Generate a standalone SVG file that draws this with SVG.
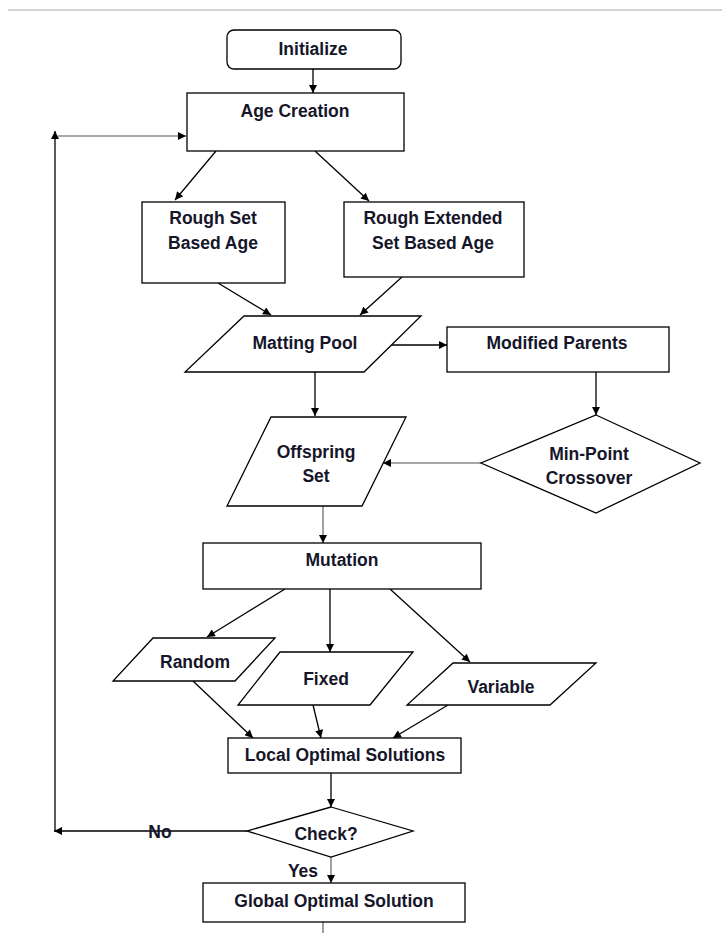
<svg xmlns="http://www.w3.org/2000/svg" width="722" height="933" viewBox="0 0 722 933">
<defs>
<marker id="ah" viewBox="0 0 10 10" refX="10" refY="5" markerWidth="9" markerHeight="8" markerUnits="userSpaceOnUse" orient="auto">
<path d="M0,0 L10,5 L0,10 z" fill="#000"/>
</marker>
<style>
.n{fill:#fff;stroke:#000;stroke-width:1.3}
.t{font-family:"Liberation Sans",Arial,sans-serif;font-weight:bold;font-size:17.5px;fill:#16162a;text-anchor:middle}
.c{fill:none;stroke:#000;stroke-width:1.3}
.g{fill:none;stroke:#8a8a8a;stroke-width:1.6}
.a{marker-end:url(#ah)}
</style>
</defs>
<rect width="722" height="933" fill="#fff"/>
<line x1="8" y1="10" x2="722" y2="10" stroke="#d4d4d4" stroke-width="2"/>
<g id="connectors">
<line class="c a" x1="313" y1="69" x2="313" y2="93"/>
<line class="c a" x1="216" y1="151" x2="175" y2="200"/>
<line class="c a" x1="315" y1="151" x2="369" y2="201"/>
<line class="c a" x1="218" y1="283" x2="271" y2="315"/>
<line class="c a" x1="402" y1="277" x2="360" y2="315"/>
<line class="c a" x1="391" y1="345" x2="447" y2="345"/>
<line class="c a" x1="315" y1="372" x2="315" y2="416"/>
<line class="c a" x1="596" y1="372" x2="596" y2="415"/>
<line class="g a" x1="481" y1="463" x2="383" y2="463"/>
<line class="g a" x1="323" y1="506" x2="323" y2="543"/>
<line class="c a" x1="285" y1="589" x2="207" y2="637"/>
<line class="c a" x1="330" y1="589" x2="330" y2="652"/>
<line class="c a" x1="390" y1="589" x2="470" y2="662"/>
<line class="c a" x1="193" y1="681" x2="253" y2="738"/>
<line class="c a" x1="313" y1="705" x2="321" y2="738"/>
<line class="c a" x1="448" y1="705" x2="393" y2="738"/>
<line class="c a" x1="331" y1="773" x2="331" y2="807"/>
<line class="c a" x1="247" y1="831" x2="54" y2="831"/>
<line class="c a" x1="55" y1="831" x2="55" y2="131"/>
<line class="g a" x1="58" y1="136" x2="186" y2="136"/>
<line class="g a" x1="331" y1="857" x2="331" y2="883"/>
<line class="g" x1="323" y1="922" x2="323" y2="933"/>
</g>
<g id="initialize"><rect class="n" x="227" y="30" width="174" height="39" rx="7"/><text class="t" x="313" y="55">Initialize</text></g>
<g id="age-creation"><rect class="n" x="187" y="93" width="217" height="58"/><text class="t" x="295" y="117">Age Creation</text></g>
<g id="rough-set"><rect class="n" x="142" y="202" width="143" height="81"/><text class="t" x="213" y="224">Rough Set</text><text class="t" x="213" y="249">Based Age</text></g>
<g id="rough-extended"><rect class="n" x="344" y="202" width="180" height="75"/><text class="t" x="433" y="224">Rough Extended</text><text class="t" x="433" y="249">Set Based Age</text></g>
<g id="matting-pool"><polygon class="n" points="244,316 421,316 364,372 185,372"/><text class="t" x="305" y="349">Matting Pool</text></g>
<g id="modified-parents"><rect class="n" x="447" y="327" width="222" height="45"/><text class="t" x="557" y="349">Modified Parents</text></g>
<g id="offspring-set"><polygon class="n" points="271,417 406,417 362,506 227,506"/><text class="t" x="316" y="458">Offspring</text><text class="t" x="316" y="482">Set</text></g>
<g id="min-point-crossover"><polygon class="n" points="596,415 700,463 596,513 481,463"/><text class="t" x="589" y="460">Min-Point</text><text class="t" x="589" y="484">Crossover</text></g>
<g id="mutation"><rect class="n" x="203" y="543" width="278" height="46"/><text class="t" x="342" y="566">Mutation</text></g>
<g id="random"><polygon class="n" points="153,638 275,638 235,681 113,681"/><text class="t" x="195" y="668">Random</text></g>
<g id="fixed"><polygon class="n" points="280,652 413,652 370,705 238,705"/><text class="t" x="326" y="685">Fixed</text></g>
<g id="variable"><polygon class="n" points="453,663 596,663 550,705 407,705"/><text class="t" x="501" y="693">Variable</text></g>
<g id="local-optimal"><rect class="n" x="228" y="738" width="233" height="35"/><text class="t" x="345" y="761">Local Optimal Solutions</text></g>
<g id="check"><polygon class="n" points="331,807 413,831 331,857 247,831"/><text class="t" x="326" y="840">Check?</text></g>
<text class="t" x="160" y="838">No</text>
<text class="t" x="303" y="877">Yes</text>
<g id="global-optimal"><rect class="n" x="203" y="883" width="262" height="39"/><text class="t" x="334" y="907">Global Optimal Solution</text></g>
</svg>
